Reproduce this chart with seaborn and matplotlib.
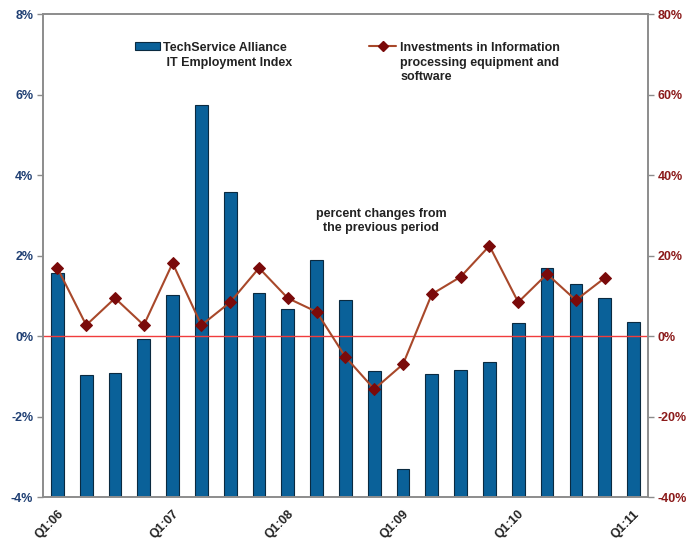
import numpy as np
import pandas as pd
import matplotlib
matplotlib.use("Agg")
import matplotlib.pyplot as plt
import seaborn as sns
from matplotlib.patches import Patch
from matplotlib.lines import Line2D

quarters = ["Q1:06", "Q2:06", "Q3:06", "Q4:06",
            "Q1:07", "Q2:07", "Q3:07", "Q4:07",
            "Q1:08", "Q2:08", "Q3:08", "Q4:08",
            "Q1:09", "Q2:09", "Q3:09", "Q4:09",
            "Q1:10", "Q2:10", "Q3:10", "Q4:10",
            "Q1:11"]
it_employment = [1.57, -0.98, -0.92, -0.07, 1.02, 5.75, 3.58, 1.08, 0.68, 1.88, 0.89,
                 -0.87, -3.30, -0.95, -0.85, -0.65, 0.32, 1.70, 1.28, 0.94, 0.36]
investments = [16.9, 2.7, 9.4, 2.7, 18.1, 2.7, 8.4, 16.9, 9.4, 6.0,
               -5.2, -13.2, -7.0, 10.4, 14.7, 22.4, 8.4, 15.4, 8.9, 14.4]
left_ticks = [-4, -2, 0, 2, 4, 6, 8]
right_ticks = [-40, -20, 0, 20, 40, 60, 80]
label_quarters = ["Q1:06", "Q1:07", "Q1:08", "Q1:09", "Q1:10", "Q1:11"]

sns.set_style("white")
plt.rcParams["font.family"] = ["Liberation Sans", "DejaVu Sans"]

bar_color = "#0A6199"
line_color = "#A8482A"
marker_color = "#7A0A0A"
left_col = "#1F3F73"
right_col = "#8B1A1A"
spine_col = "#8C8C8C"
text_col = "#222222"
fs = 9

fig = plt.figure(figsize=(6.87, 5.43), dpi=100)
ax = fig.add_axes([0.0626, 0.0847, 0.8804, 0.8895])

df = pd.DataFrame({"q": quarters, "v": it_employment})
sns.barplot(data=df, x="q", y="v", ax=ax, color=bar_color, saturation=1,
            width=0.44, edgecolor="#0A2A40", linewidth=0.8)
ymin = -4
for p, v in zip(ax.patches, it_employment):
    p.set_y(ymin)
    p.set_height(v - ymin)

ax.set_ylim(-4, 8)
ax.set_xlim(-0.5, len(quarters) - 0.5)
ax.axhline(0, color="#F03C3C", lw=1.0, zorder=1)
ax.set_yticks(left_ticks)
ax.set_yticklabels([f"{t}%" for t in left_ticks], color=left_col,
                   fontsize=fs, fontweight="bold")
ax.set_xlabel("")
ax.set_ylabel("")

pos = [quarters.index(q) for q in label_quarters]
ax.set_xticks(pos)
ax.set_xticklabels(label_quarters, rotation=45, ha="right", rotation_mode="anchor",
                   fontsize=fs, fontweight="bold", color=text_col)
ax.set_xticks(np.arange(-0.5, len(quarters), 1), minor=True)
ax.tick_params(axis="x", which="major", length=0, pad=8)
ax.tick_params(axis="x", which="minor", length=4, direction="out", color=spine_col, width=1)
ax.tick_params(axis="y", length=4, direction="out", color=spine_col, width=1, pad=3)

for s in ax.spines.values():
    s.set_color(spine_col)
    s.set_linewidth(1.2)

ax2 = ax.twinx()
ldf = pd.DataFrame({"x": np.arange(len(investments)), "v": investments})
sns.lineplot(data=ldf, x="x", y="v", ax=ax2, color=line_color, lw=1.5,
             marker="D", markersize=6.5, markerfacecolor=marker_color,
             markeredgecolor=marker_color)
ax2.set_ylim(-40, 80)
ax2.set_xlim(-0.5, len(quarters) - 0.5)
ax2.set_yticks(right_ticks)
ax2.set_yticklabels([f"{t}%" for t in right_ticks], color=right_col,
                    fontsize=fs, fontweight="bold")
ax2.set_ylabel("")
ax2.set_xlabel("")
ax2.tick_params(axis="y", length=4, direction="out", color=spine_col, width=1, pad=3)
for s in ax2.spines.values():
    s.set_color(spine_col)
    s.set_linewidth(1.2)

leg1 = ax2.legend(handles=[Patch(facecolor=bar_color, edgecolor="#0A2A40", lw=0.8)],
                  labels=["TechService Alliance"],
                  loc="upper left", bbox_to_anchor=(0.133, 0.966), frameon=False,
                  handlelength=2.0, handleheight=0.6, handletextpad=0.3,
                  prop={"size": fs, "weight": "bold"})
leg1.get_texts()[0].set_color(text_col)
ax2.add_artist(leg1)
leg2 = ax2.legend(handles=[Line2D([], [], color=line_color, lw=1.5, marker="D",
                                  markersize=5, markerfacecolor=marker_color,
                                  markeredgecolor=marker_color)],
                  labels=["Investments in Information"],
                  loc="upper left", bbox_to_anchor=(0.52, 0.966), frameon=False,
                  handlelength=2.2, handletextpad=0.3,
                  prop={"size": fs, "weight": "bold"})
leg2.get_texts()[0].set_color(text_col)

fig.canvas.draw()
inv = fig.transFigure.inverted()
for leg, extra in [(leg1, " IT Employment Index"),
                   (leg2, "processing equipment and\nsoftware")]:
    bb = leg.get_texts()[0].get_window_extent().transformed(inv)
    fig.text(bb.x0, bb.y0 - 0.006, extra, ha="left", va="top", fontsize=fs,
             fontweight="bold", color=text_col, linespacing=1.25)

fig.text(0.555, 0.593, "percent changes from\nthe previous period", ha="center",
         va="center", fontsize=fs, fontweight="bold", color=text_col)

fig.savefig("out.png", dpi=100)
